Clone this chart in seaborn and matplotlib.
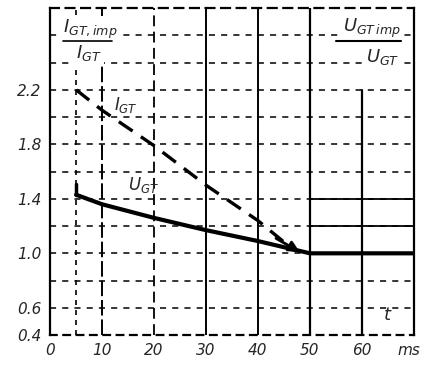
import matplotlib
matplotlib.use("Agg")
import matplotlib.pyplot as plt
import seaborn as sns
import pandas as pd

sns.set_theme(style="white")
plt.rcParams["font.family"] = ["DejaVu Sans"]

# dashed curve: I_GT,imp / I_GT
t_igt = [5, 10, 20, 30, 40, 47]
v_igt = [2.2, 2.05, 1.79, 1.5, 1.24, 1.02]
# solid curve: U_GT,imp / U_GT
t_ugt = [5, 10, 20, 30, 40, 50, 60, 70]
v_ugt = [1.43, 1.36, 1.26, 1.17, 1.09, 1.0, 1.0, 1.0]

x_ticks = [0, 10, 20, 30, 40, 50, 60]
x_labels = ["0", "10", "20", "30", "40", "50", "60"]
y_ticks = [0.4, 0.6, 1.0, 1.4, 1.8, 2.2]
y_labels = ["0.4", "0.6", "1.0", "1.4", "1.8", "2.2"]
y_grid = [0.6, 0.8, 1.0, 1.2, 1.4, 1.6, 1.8, 2.0, 2.2, 2.4, 2.6]

df_i = pd.DataFrame({"t": t_igt, "v": v_igt})
df_u = pd.DataFrame({"t": t_ugt, "v": v_ugt})

fig = plt.figure(figsize=(4.32, 3.67), dpi=100)
ax = fig.add_axes([0.116, 0.087, 0.842, 0.891])
ax.set_xlim(0, 70)
ax.set_ylim(0.4, 2.8)

# ── grid ──────────────────────────────────────────────────────────────────
for y in y_grid:
    ax.plot([0, 70], [y, y], color="black", lw=1.1, ls=(0, (4, 4)), zorder=1)
    if 0.9 < y < 1.5:
        ax.plot([50, 70], [y, y], color="black", lw=1.3, zorder=1)
ax.axvline(5, color="black", lw=1.2, ls=(0, (3, 3)), zorder=1)
ax.axvline(10, color="black", lw=1.4, ls=(0, (8, 2)), zorder=1)
ax.axvline(20, color="black", lw=1.3, ls=(0, (6, 3)), zorder=1)
ax.axvline(30, color="black", lw=1.4, zorder=1)
ax.axvline(40, color="black", lw=1.4, zorder=1)
ax.axvline(50, color="black", lw=1.6, zorder=1)
ax.plot([60, 60], [0.4, 2.2], color="black", lw=1.6, zorder=1)

for side in ["left", "right", "bottom", "top"]:
    ax.spines[side].set_color("black")
    ax.spines[side].set_linewidth(1.6)
ax.spines["top"].set_linestyle((0, (4, 3)))
ax.spines["bottom"].set_linestyle((0, (3, 3)))

# ── curves ────────────────────────────────────────────────────────────────
sns.lineplot(data=df_i, x="t", y="v", ax=ax, color="black", lw=2.4,
             linestyle=(0, (5, 3)), zorder=3)
sns.lineplot(data=df_u, x="t", y="v", ax=ax, color="black", lw=3.0, zorder=3)
ax.plot([t_ugt[0], t_ugt[0]], [v_ugt[0], v_ugt[0] + 0.08], color="black", lw=2.5)
ax.annotate("", xy=(t_igt[-1] + 1.5, v_igt[-1] - 0.02),
            xytext=(t_igt[-2] + 3, v_igt[-2] - 0.12),
            arrowprops=dict(arrowstyle="-|>", color="black", lw=2,
                            mutation_scale=16))

# ── labels ────────────────────────────────────────────────────────────────
ax.set_xticks(x_ticks, x_labels)
ax.set_yticks(y_ticks, y_labels)
ax.tick_params(length=0, labelsize=11, pad=6)
for lab in ax.get_xticklabels() + ax.get_yticklabels():
    lab.set_fontstyle("italic")
ax.set_xlabel("")
ax.set_ylabel("")

box = dict(facecolor="white", edgecolor="none", pad=1.5)
ax.text(2.5, 2.64, r"$I_{GT,imp}$", fontsize=13, ha="left", va="center",
        bbox=box, zorder=4)
ax.plot([2.5, 12], [2.56, 2.56], color="black", lw=1.2, zorder=5)
ax.text(5, 2.47, r"$I_{GT}$", fontsize=13, ha="left", va="center",
        bbox=box, zorder=4)

ax.text(67.5, 2.65, r"$U_{GT\,imp}$", fontsize=13, ha="right", va="center",
        bbox=box, zorder=4)
ax.plot([55, 67.5], [2.56, 2.56], color="black", lw=1.5, zorder=5)
ax.text(64, 2.44, r"$U_{GT}$", fontsize=13, ha="center", va="center",
        bbox=box, zorder=4)

ax.text(14.5, 2.09, r"$I_{GT}$", fontsize=12, ha="center", va="center")
ax.text(18, 1.5, r"$U_{GT}$", fontsize=12, ha="center", va="center")
ax.text(65, 0.55, r"$t$", fontsize=13, ha="center", va="center")
ax.annotate("ms", xy=(69, 0.4), xytext=(0, -6), textcoords="offset points",
            fontsize=11, fontstyle="italic", ha="center", va="top")

fig.savefig("out.png", dpi=100)
